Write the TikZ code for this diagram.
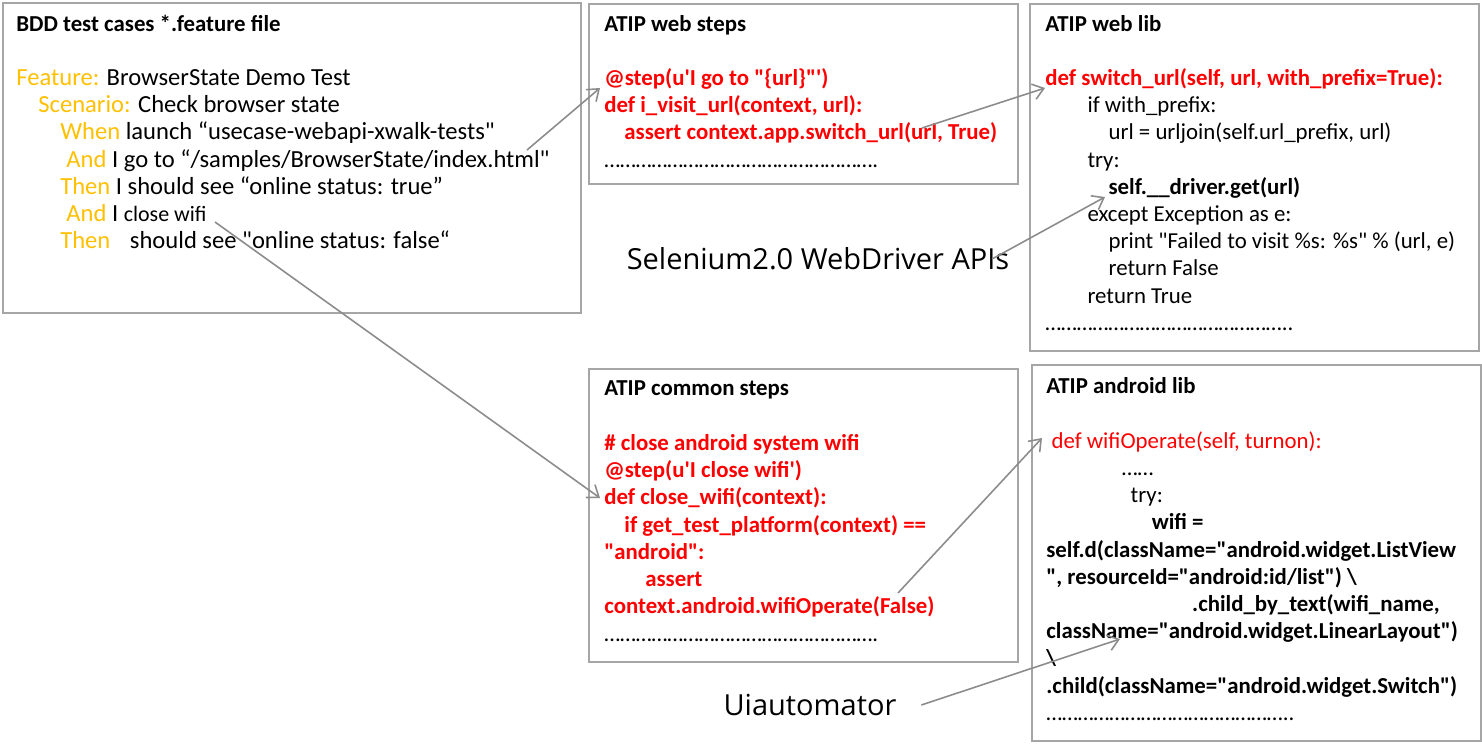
\documentclass[tikz,border=0pt]{standalone}
\usepackage{fontspec}
\setmainfont{Carlito}[Ligatures=TeXOff]
\newfontfamily\apifont{Open Sans}
\usetikzlibrary{arrows.meta}
\definecolor{boxgray}{HTML}{A6A6A6}
\definecolor{arrowgray}{HTML}{8C8C8C}
\definecolor{kwgold}{HTML}{FFC000}
\definecolor{codered}{HTML}{FF0000}
\tikzset{>={Straight Barb[length=6pt, width=9pt]}}
\tikzset{
    box/.style = {draw = boxgray, line width = 1.1pt, anchor = north west, inner sep = 0pt},
    title/.style = {anchor = north west, inner sep = 0pt, font = \fontsize{13}{15.5}\selectfont\bfseries},
    code/.style = {anchor = north west, inner sep = 0pt, align = left, font = \fontsize{13}{15.5}\selectfont},
    api/.style = {inner sep = 0pt, font = \apifont\fontsize{16.5}{19}\selectfont},
    link/.style = {arrowgray, line width = .9pt, ->},
}

\begin{document}
\begin{tikzpicture}[x = .02cm, y = -.02cm]
    \useasboundingbox[fill = white] (0,0) rectangle (1482,745);

    \node[box, minimum width = 11.56cm, minimum height = 6.2cm] (feat) at (2,2) {};
    \node[box, minimum width = 8.58cm, minimum height = 3.6cm] (websteps) at (588,3) {};
    \node[box, minimum width = 8.98cm, minimum height = 6.94cm] (weblib) at (1029,3) {};
    \node[box, minimum width = 8.58cm, minimum height = 5.86cm] (commonsteps) at (588,368) {};
    \node[box, minimum width = 8.98cm, minimum height = 7.52cm] (androidlib) at (1031,364) {};

    \node[title] (feattitle) at (16,15) {BDD test cases *.feature file};
    \node[code, font = \fontsize{14}{15.5}\selectfont] (feattext) at (16,69) {
        \textcolor{kwgold}{Feature:} BrowserState Demo Test\\
        \hspace*{12.5pt}\textcolor{kwgold}{Scenario:} Check browser state\\
        \hspace*{25pt}\textcolor{kwgold}{When} launch “usecase-webapi-xwalk-tests"\\
        \hspace*{28.5pt}\textcolor{kwgold}{And} I go to “/samples/BrowserState/index.html"\\
        \hspace*{25pt}\textcolor{kwgold}{Then} I should see “online status: true”\\
        \hspace*{28.5pt}\textcolor{kwgold}{And} I {\fontsize{12.5}{15.5}\selectfont close wifi}\\
        \hspace*{25pt}\textcolor{kwgold}{Then}\hspace{8pt} should see "online status: false“
    };

    \node[title] (webstepstitle) at (604,15) {ATIP web steps};
    \node[code] (webstepstext) at (604,68) {
        \textcolor{codered}{\bfseries @step(u'I go to "\{url\}"')}\\
        \textcolor{codered}{\bfseries def i\_visit\_url(context, url):}\\
        \hspace*{11.4pt}\textcolor{codered}{\bfseries assert context.app.switch\_url(url, True)}\\
        …………………………………………….
    };

    \node[title] (weblibtitle) at (1045,15) {ATIP web lib};
    \node[code] (weblibtext) at (1045,68) {
        \textcolor{codered}{\bfseries def switch\_url(self, url, with\_prefix=True):}\\
        \hspace*{24pt}if with\_prefix:\\
        \hspace*{36pt}url = urljoin(self.url\_prefix, url)\\
        \hspace*{24pt}try:\\
        \hspace*{36pt}\textbf{self.\_\_driver.get(url)}\\
        \hspace*{24pt}except Exception as e:\\
        \hspace*{36pt}print "Failed to visit \%s: \%s" \% (url, e)\\
        \hspace*{36pt}return False\\
        \hspace*{24pt}return True\\
        ………………………………………..
    };

    \node[title] (commonstepstitle) at (604,380) {ATIP common steps};
    \node[code] (commonstepstext) at (604,434) {
        \textcolor{codered}{\bfseries \# close android system wifi}\\
        \textcolor{codered}{\bfseries @step(u'I close wifi')}\\
        \textcolor{codered}{\bfseries def close\_wifi(context):}\\
        \hspace*{11.4pt}\textcolor{codered}{\bfseries if get\_test\_platform(context) ==}\\
        \textcolor{codered}{\bfseries "android":}\\
        \hspace*{23.3pt}\textcolor{codered}{\bfseries assert}\\
        \textcolor{codered}{\bfseries context.android.wifiOperate(False)}\\
        …………………………………………….
    };

    \node[title] (androidlibtitle) at (1046,377) {ATIP android lib};
    \node[code] (androidlibtext) at (1046,431) {
        \hspace*{3pt}\textcolor{codered}{def wifiOperate(self, turnon):}\\
        \hspace*{43pt}……\\
        \hspace*{48pt}try:\\
        \hspace*{60pt}\textbf{wifi =}\\
        \textbf{self.d(className="android.widget.ListView}\\
        \textbf{", resourceId="android:id/list") \textbackslash}\\
        \hspace*{83pt}\textbf{.child\_by\_text(wifi\_name,}\\
        \textbf{className="android.widget.LinearLayout")}\\
        \textbf{\textbackslash}\\
        \textbf{.child(className="android.widget.Switch")}\\
        ………………………………………..
    };

    \node[api] (selenium) at (818,259) {Selenium2.0 WebDriver APIs};
    \node[api] (uiauto) at (810,705) {Uiautomator};

    \coordinate (gotoend) at (527,150);
    \coordinate (stepgoto) at (600,88);
    \coordinate (switchcall) at (922,128);
    \coordinate (switchdef) at (1045,88);
    \coordinate (driverget) at (1105,197);
    \coordinate (closeend) at (215,222);
    \coordinate (closedef) at (600,498);
    \coordinate (operatecall) at (898,593);
    \coordinate (operatedef) at (1042,438);
    \coordinate (uiautocall) at (1120,639);

    \draw[link] (gotoend) -- (stepgoto);
    \draw[link] (switchcall) -- (switchdef);
    \draw[link] ([xshift = -10pt]selenium.east) -- (driverget);
    \draw[link] (closeend) -- (closedef);
    \draw[link] (operatecall) -- (operatedef);
    \draw[link] ([xshift = 14pt]uiauto.east) -- (uiautocall);
\end{tikzpicture}
\end{document}
